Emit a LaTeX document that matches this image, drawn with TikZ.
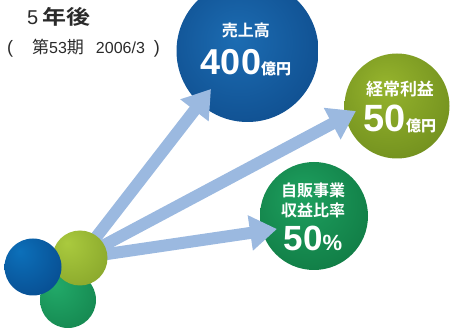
\documentclass[tikz,border=0pt]{standalone}
\usepackage{fontspec}
\setmainfont{Liberation Sans}
\newfontfamily\jp{Noto Sans CJK JP}
\newfontfamily\jpb{Noto Sans CJK JP Bold}
\usetikzlibrary{arrows.meta}
\definecolor{arrowc}{HTML}{9BB9E0}
\definecolor{titlec}{HTML}{2A2A2A}
\definecolor{bbA}{RGB}{28,108,178}
\definecolor{bbB}{RGB}{16,80,145}
\definecolor{bbC}{RGB}{10,46,92}
\definecolor{obA}{RGB}{150,180,45}
\definecolor{obB}{RGB}{118,148,32}
\definecolor{obC}{RGB}{78,102,18}
\definecolor{gbA}{RGB}{30,160,95}
\definecolor{gbB}{RGB}{18,128,72}
\definecolor{gbC}{RGB}{10,90,50}
\definecolor{bsA}{RGB}{12,112,186}
\definecolor{bsB}{RGB}{8,80,148}
\definecolor{bsC}{RGB}{5,55,105}
\definecolor{osA}{RGB}{170,202,62}
\definecolor{osB}{RGB}{140,170,45}
\definecolor{osC}{RGB}{88,112,20}
\definecolor{gsA}{RGB}{34,170,105}
\definecolor{gsB}{RGB}{22,138,82}
\definecolor{gsC}{RGB}{12,92,54}
\pgfdeclareradialshading{bluebig}{\pgfpoint{-4bp}{4bp}}{color(0bp)=(bbA); color(30bp)=(bbB); color(50bp)=(bbC); color(70bp)=(bbC)}
\pgfdeclareradialshading{olivebig}{\pgfpoint{-6bp}{10bp}}{color(0bp)=(obA); color(30bp)=(obB); color(50bp)=(obC); color(70bp)=(obC)}
\pgfdeclareradialshading{greenbig}{\pgfpoint{-6bp}{10bp}}{color(0bp)=(gbA); color(30bp)=(gbB); color(50bp)=(gbC); color(70bp)=(gbC)}
\pgfdeclareradialshading{bluesm}{\pgfpoint{-12bp}{14bp}}{color(0bp)=(bsA); color(35bp)=(bsB); color(62bp)=(bsC); color(80bp)=(bsC)}
\pgfdeclareradialshading{olivesm}{\pgfpoint{-12bp}{14bp}}{color(0bp)=(osA); color(35bp)=(osB); color(62bp)=(osC); color(80bp)=(osC)}
\pgfdeclareradialshading{greensm}{\pgfpoint{-12bp}{14bp}}{color(0bp)=(gsA); color(35bp)=(gsB); color(62bp)=(gsC); color(80bp)=(gsC)}
\tikzset{
  ballnode/.style={circle, inner sep=0pt, outer sep=0pt, draw=none},
  growarrow/.style={arrowc, line width=12pt, -{Triangle[width=34pt,length=27pt]}},
  intext/.style={text=white, inner sep=0pt, align=center},
  titletext/.style={text=titlec, inner sep=0pt, anchor=base west},
}
\begin{document}
\begin{tikzpicture}[x=1pt,y=-1pt]
\clip (0,0) rectangle (451,329);
% big circles
\node[ballnode, minimum size=142pt, shading=bluebig] (sales) at (247.5,51) {};
\node[ballnode, minimum size=105pt, shading=olivebig] (profit) at (397,106) {};
\node[ballnode, minimum size=108pt, shading=greenbig] (ratio) at (314,216) {};
% small circles (back)
\node[ballnode, minimum size=56pt, shading=greensm] (sg) at (68,300) {};
\coordinate (t1) at (211,89);
\coordinate (t2) at (356,111);
\coordinate (t3) at (277,229);
\coordinate (src) at (80,258);
\draw[growarrow] (src) -- (t1);
\draw[growarrow] (src) -- (t2);
\draw[growarrow] (src) -- (t3);
\node[ballnode, minimum size=55pt, shading=olivesm] (so) at (80,258) {};
\node[ballnode, minimum size=57pt, shading=bluesm] (sb) at (33,267) {};
% texts in big circles
\node[intext, font=\jpb\fontsize{16}{16}\selectfont] (l1) at (246,30) {売上高};
\node[intext, anchor=base] (v1) at (246,75) {\fontsize{36}{36}\selectfont\bfseries 400\jpb\fontsize{15}{15}\selectfont 億円};
\node[intext, font=\jpb\fontsize{17}{17}\selectfont] (l2) at (400,89) {経常利益};
\node[intext, anchor=base] (v2) at (400,132) {\fontsize{38}{38}\selectfont\bfseries 50\jpb\fontsize{15}{15}\selectfont 億円};
\node[intext, font=\jpb\fontsize{16}{20}\selectfont] (l3) at (313,200) {自販事業\\収益比率};
\node[intext, anchor=base] (v3) at (313,251) {\fontsize{35}{35}\selectfont\bfseries 50\fontsize{22}{22}\selectfont\%};
% title
\node[titletext] (ti) at (27,25) {\fontsize{20}{20}\selectfont 5\hspace{4pt}\scalebox{1.2}[1]{\jpb\fontsize{20}{20}\selectfont 年後}};
\node[titletext] (st) at (7,54) {\fontsize{18}{18}\selectfont\makebox[25pt][l]{(}\jp\fontsize{17}{17}\selectfont 第\rmfamily\fontsize{16}{16}\selectfont 53\jp\fontsize{17}{17}\selectfont 期\hspace{12pt}\rmfamily\fontsize{16}{16}\selectfont 2006/3\hspace{9pt}\fontsize{18}{18}\selectfont )};
\end{tikzpicture}
\end{document}
